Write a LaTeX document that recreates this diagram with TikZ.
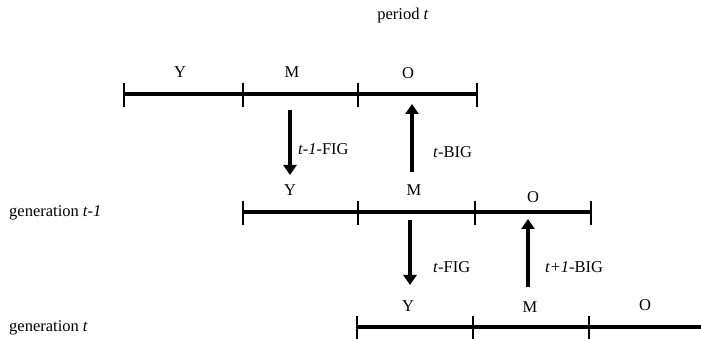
\documentclass[tikz,border=0pt]{standalone}
\usepackage{fontspec}
\setmainfont{Liberation Serif}
\usetikzlibrary{arrows.meta}
\begin{document}
\begin{tikzpicture}[x=1pt,y=1pt,
  bar/.style={line width=4.2pt},
  tick/.style={line width=1.5pt},
  flow/.style={line width=3.2pt,-{Triangle[length=10pt,width=13pt]}},
  lab/.style={font=\fontsize{16.5}{18}\selectfont,inner sep=0pt},
  side/.style={font=\fontsize{16.5}{18}\selectfont,inner sep=0pt,anchor=west}]
\useasboundingbox (0,0) rectangle (701,339);
% period t line
\foreach \n/\x in {a0/124,a1/243,a2/358,a3/477}{\coordinate (\n) at (\x,245);}
\draw[bar] (a0) -- (a3);
\foreach \n in {a0,a1,a2,a3}{\draw[tick] ([yshift=11pt]\n) -- ([yshift=-13pt]\n);}
\node[lab] (ty) at (180,267) {Y};
\node[lab] (tm) at (292,267) {M};
\node[lab] (to) at (408,266) {O};
\node[lab] (per) at (403,323) {period \textit{t}};
% generation t-1
\foreach \n/\x in {b0/243,b1/358,b2/475,b3/591}{\coordinate (\n) at (\x,127);}
\draw[bar] (b0) -- (b3);
\foreach \n in {b0,b1,b2,b3}{\draw[tick] ([yshift=11pt]\n) -- ([yshift=-13pt]\n);}
\node[lab] (my) at (290,149) {Y};
\node[lab] (mm) at (414,149) {M};
\node[lab] (mo) at (533,142) {O};
\node[side] (g1) at (9,126) {generation \textit{t-1}};
% generation t
\foreach \n/\x in {c0/357,c1/473,c2/589,c3/701}{\coordinate (\n) at (\x,12);}
\draw[bar] (c0) -- (c3);
\foreach \n in {c0,c1,c2}{\draw[tick] ([yshift=11pt]\n) -- ([yshift=-13pt]\n);}
\node[lab] (by) at (408,33) {Y};
\node[lab] (bm) at (530,32) {M};
\node[lab] (bo) at (645,34) {O};
\node[side] (g2) at (9,11) {generation \textit{t}};
% transfers
\coordinate (f1s) at (290,229); \coordinate (f1e) at (290,164);
\coordinate (b1s) at (412,167); \coordinate (b1e) at (412,235);
\coordinate (f2s) at (410,119); \coordinate (f2e) at (410,54);
\coordinate (b2s) at (528,52);  \coordinate (b2e) at (528,120);
\draw[flow] (f1s) -- (f1e);
\draw[flow] (b1s) -- (b1e);
\draw[flow] (f2s) -- (f2e);
\draw[flow] (b2s) -- (b2e);
\node[side] (l1) at (298,190) {\textit{t-1}-FIG};
\node[side] (l2) at (433,187) {\textit{t}-BIG};
\node[side] (l3) at (433,72) {\textit{t}-FIG};
\node[side] (l4) at (545,72) {\textit{t+1}-BIG};
\end{tikzpicture}
\end{document}
